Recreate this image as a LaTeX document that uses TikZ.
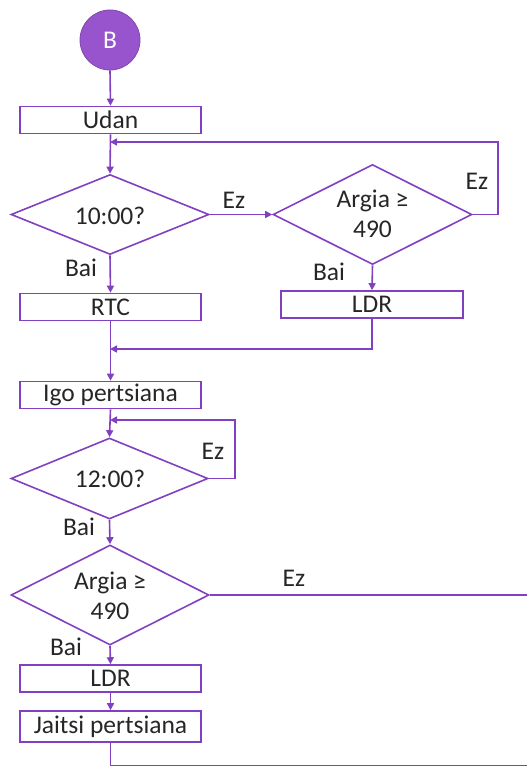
\documentclass[tikz,border=0pt]{standalone}
\usepackage{fontspec}
\setmainfont{Carlito}
\usetikzlibrary{shapes.geometric,arrows.meta}
\definecolor{lc}{RGB}{128,64,192}
\definecolor{cf}{RGB}{152,84,204}
\definecolor{tc}{RGB}{38,38,38}
\begin{document}
\begin{tikzpicture}[x=1pt,y=-1pt, font=\fontsize{25.5}{30}\selectfont, text=tc,
 box/.style={draw=lc, line width=1.6pt, minimum width=181pt, minimum height=27pt, inner sep=0pt},
 dia/.style={draw=lc, line width=1.6pt, diamond, inner sep=0pt},
 lbl/.style={inner sep=0pt, align=center},
 arr/.style={draw=lc, line width=1.6pt, -{Triangle[length=7pt,width=7pt]}},
 ln/.style={draw=lc, line width=1.6pt}]
\useasboundingbox (0,0) rectangle (527,767);
% start
\node[circle, fill=cf, draw=cf!85!black, line width=0.8pt, minimum size=60pt, inner sep=0pt, text=white] (c) at (110,40) {B};
% boxes
\node[box] (udan) at (110.5,120) {Udan};
\node[box] (rtc) at (110.5,307) {RTC};
\node[box, minimum width=182pt] (ldr1) at (372,304.5) {LDR};
\node[box] (igo) at (110.5,395) {Igo pertsiana};
\node[box] (ldr2) at (110.5,678.5) {LDR};
\node[box, minimum height=31pt] (jait) at (110.5,726.5) {Jaitsi pertsiana};
% diamonds
\node[dia, minimum width=198pt, minimum height=80pt] (d1) at (110,214.5) {};
\node[lbl] (t1) at (110,216) {10:00?};
\node[dia, minimum width=199pt, minimum height=100pt] (d2) at (372.5,214.5) {};
\node[lbl] (t2) at (372.5,214) {Argia ≥\\490};
\node[dia, minimum width=197pt, minimum height=81pt] (d3) at (109.5,478.5) {};
\node[lbl] (t3) at (110,479) {12:00?};
\node[dia, minimum width=198pt, minimum height=100pt] (d4) at (110,595) {};
\node[lbl] (t4) at (110,596) {Argia ≥\\490};
% labels
\node[lbl] (l1) at (234,200) {Ez};
\node[lbl] (l2) at (477,181) {Ez};
\node[lbl] (l3) at (81,268) {Bai};
\node[lbl] (l4) at (329,272) {Bai};
\node[lbl] (l5) at (213,451) {Ez};
\node[lbl] (l6) at (79,527) {Bai};
\node[lbl] (l7) at (294,578) {Ez};
\node[lbl] (l8) at (66,647) {Bai};
% junctions
\coordinate (j1) at (110,142);
\coordinate (r1) at (498,142);
\coordinate (j2) at (110,349);
\coordinate (j3) at (110,420);
\coordinate (r3) at (235,420);
\coordinate (e4) at (527,595);
\coordinate (e5) at (527,765.5);
% connectors
\draw[arr] (c.south) -- (udan.south |- udan.north);
\draw[arr] (udan.south) -- (d1.north);
\draw[arr] (d2.east) -| (r1) -- (j1);
\draw[arr] (d1.east) -- (d2.west);
\draw[arr] (d1.south) -- (rtc.south |- rtc.north);
\draw[arr] (d2.south) -- (ldr1.north);
\draw[arr] (rtc.south) -- (igo.north);
\draw[arr] (ldr1.south) |- (j2);
\draw[arr] (igo.south) -- (d3.north);
\draw[arr] (d3.east) -| (r3) -- (j3);
\draw[arr] (d3.south) -- (d4.north);
\draw[ln] (d4.east) -- (e4);
\draw[arr] (d4.south) -- (ldr2.north);
\draw[arr] (ldr2.south) -- (jait.north);
\draw[ln] (jait.south) |- (e5);
\end{tikzpicture}
\end{document}
